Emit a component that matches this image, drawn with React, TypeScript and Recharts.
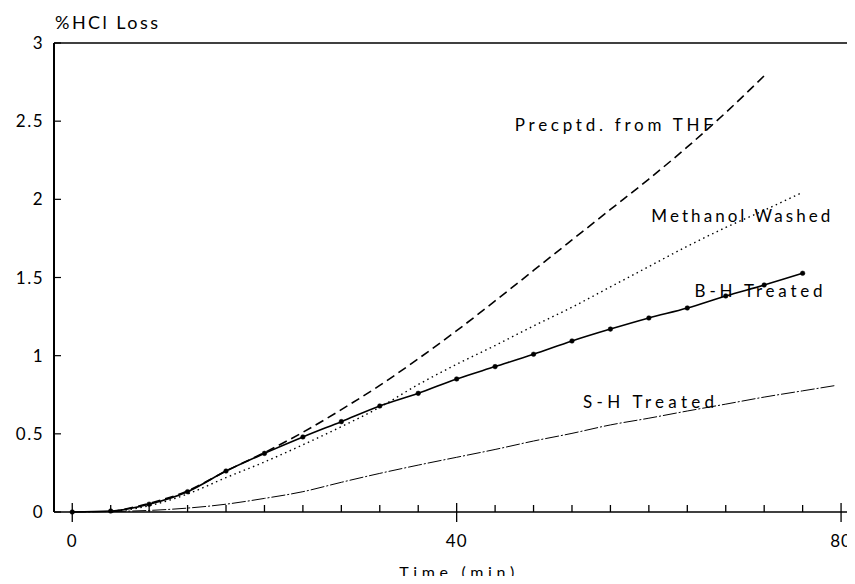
import React from 'react';
import { LineChart, Line, XAxis, YAxis, ReferenceLine, ReferenceDot } from 'recharts';

// Time (min) and %HCl loss for each sample
const thfTime = [4, 8, 12, 16, 20, 24, 28, 32, 36, 40, 44, 48, 52, 56, 60, 64, 68, 72];
const thfLoss = [0, 0.055, 0.135, 0.262, 0.38, 0.51, 0.655, 0.81, 0.98, 1.16, 1.35, 1.545, 1.74, 1.935, 2.13, 2.335, 2.555, 2.79];

const meohTime = [4, 8, 12, 16, 20, 24, 28, 32, 36, 40, 44, 48, 52, 56, 60, 64, 68, 72, 76];
const meohLoss = [0, 0.04, 0.115, 0.22, 0.32, 0.43, 0.546, 0.67, 0.815, 0.945, 1.065, 1.19, 1.31, 1.44, 1.57, 1.7, 1.82, 1.93, 2.045];

const bhTime = [0, 4, 8, 12, 16, 20, 24, 28, 32, 36, 40, 44, 48, 52, 56, 60, 64, 68, 72, 76];
const bhLoss = [0, 0.006, 0.05, 0.13, 0.262, 0.375, 0.48, 0.578, 0.678, 0.759, 0.851, 0.93, 1.009, 1.094, 1.17, 1.241, 1.305, 1.382, 1.452, 1.527];

const shTime = [0, 4, 8, 12, 16, 20, 24, 28, 32, 36, 40, 44, 48, 52, 56, 60, 64, 68, 72, 76, 79.5];
const shLoss = [0, 0.003, 0.01, 0.025, 0.05, 0.087, 0.13, 0.19, 0.247, 0.3, 0.35, 0.4, 0.454, 0.503, 0.557, 0.6, 0.646, 0.69, 0.735, 0.775, 0.81];

const xTicks = [0, 4, 8, 12, 16, 20, 24, 28, 32, 36, 40, 44, 48, 52, 56, 60, 64, 68, 72, 76, 80];
const xLabelled = [0, 40, 80];
const yTicks = [0, 0.5, 1, 1.5, 2, 2.5, 3];

const seriesNames = ['Precptd. from THF', 'Methanol Washed', 'B-H Treated', 'S-H Treated'];
const yTitle = '%HCl Loss';
const xTitle = 'Time (min)';

const toRows = (t: number[], v: number[]) => t.map((x, i) => ({ t: x, v: v[i] }));

const FONT = 'Lato, "DejaVu Sans", sans-serif';

const XTick = (props: any) => {
  const { x, y, payload } = props;
  const major = xLabelled.includes(payload.value);
  return (
    <g>
      <line x1={x} x2={x} y1={major ? y - 9 : y} y2={major ? y + 10 : y - 7} stroke="#000" strokeWidth={1.3} />
      {major && (
        <text x={x} y={y + 35} textAnchor="middle" fontFamily={FONT} fontSize={17} letterSpacing={1} fill="#000">
          {payload.value}
        </text>
      )}
    </g>
  );
};

const YTick = (props: any) => {
  const { x, y, payload } = props;
  return (
    <g>
      <line x1={x} x2={x + 7} y1={y} y2={y} stroke="#000" strokeWidth={1.2} />
      <text x={x - 10} y={y + 6} textAnchor="end" fontFamily={FONT} fontSize={17} letterSpacing={1.5} fill="#000">
        {payload.value}
      </text>
    </g>
  );
};

const makeLabel = (text: string, len: number, dy: number = 0, anchor: string = 'start', size: number = 17) => (p: any) => (
  <text
    x={p.cx}
    y={p.cy + dy}
    textAnchor={anchor}
    fontFamily={FONT}
    fontSize={size}
    fill="#000"
    textLength={len}
    lengthAdjust="spacing"
  >
    {text}
  </text>
);

export default function App() {
  return (
    <div style={{ width: 847, height: 568 }}>
      <LineChart width={847} height={576} margin={{ top: 35, right: 0, bottom: 0, left: 0 }}>
        <XAxis
          dataKey="t"
          type="number"
          domain={[-1.9, 81.45]}
          allowDataOverflow
          ticks={xTicks}
          interval={0}
          tickSize={0}
          tickMargin={0}
          tickLine={false}
          tick={<XTick />}
          height={72}
          axisLine={{ stroke: '#000', strokeWidth: 1.5 }}
        />
        <YAxis
          dataKey="v"
          type="number"
          domain={[0, 3]}
          ticks={yTicks}
          interval={0}
          tickSize={0}
          tickMargin={0}
          tickLine={false}
          tick={<YTick />}
          width={46}
          axisLine={{ stroke: '#000', strokeWidth: 2 }}
          label={{
            content: (lp: any) => (
              <text
                x={lp.viewBox.x + lp.viewBox.width + 1}
                y={lp.viewBox.y - 14}
                fontFamily={FONT}
                fontSize={18}
                fill="#000"
                textLength={103}
                lengthAdjust="spacing"
              >
                {yTitle}
              </text>
            ),
          }}
        />
        <ReferenceLine y={3} stroke="#000" strokeWidth={1.5} />
        <Line
          data={toRows(shTime, shLoss)}
          dataKey="v"
          type="monotone"
          stroke="#000"
          strokeWidth={1}
          strokeDasharray="14 2 2 2"
          dot={false}
          isAnimationActive={false}
        />
        <Line
          data={toRows(meohTime, meohLoss)}
          dataKey="v"
          type="monotone"
          stroke="#000"
          strokeWidth={1.4}
          strokeDasharray="1.5 3.5"
          dot={false}
          isAnimationActive={false}
        />
        <Line
          data={toRows(thfTime, thfLoss)}
          dataKey="v"
          type="monotone"
          stroke="#000"
          strokeWidth={1.6}
          strokeDasharray="9 5"
          dot={false}
          isAnimationActive={false}
        />
        <Line
          data={toRows(bhTime, bhLoss)}
          dataKey="v"
          type="monotone"
          stroke="#000"
          strokeWidth={1.6}
          dot={{ r: 2.3, fill: '#000', stroke: '#000', strokeWidth: 0.5 }}
          isAnimationActive={false}
        />
        <ReferenceDot x={46.05} y={2.44} r={0} shape={makeLabel(seriesNames[0], 198)} />
        <ReferenceDot x={60.26} y={1.855} r={0} shape={makeLabel(seriesNames[1], 179)} />
        <ReferenceDot x={64.76} y={1.376} r={0} shape={makeLabel(seriesNames[2], 128)} />
        <ReferenceDot x={53.15} y={0.665} r={0} shape={makeLabel(seriesNames[3], 131)} />
        <ReferenceDot x={40} y={0} r={0} shape={makeLabel(xTitle, 115, 66, 'middle', 16)} />
      </LineChart>
    </div>
  );
}
